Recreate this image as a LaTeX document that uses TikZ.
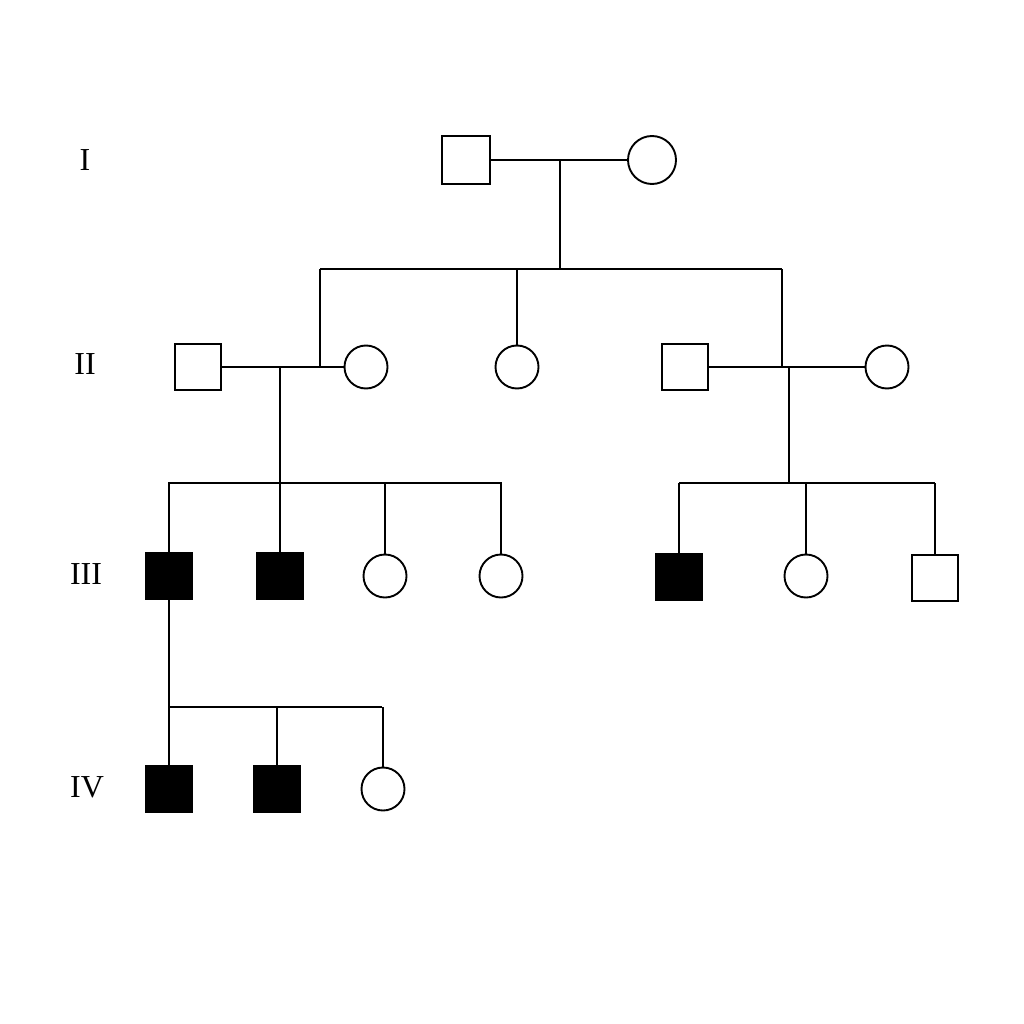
\documentclass[tikz,border=0pt]{standalone}
\usepackage{fontspec}
\setmainfont{Liberation Serif}
\begin{document}
\begin{tikzpicture}[x=1pt,y=-1pt,
  line width=1.9pt,
  male/.style={draw, rectangle, minimum size=46pt, inner sep=0pt},
  affm/.style={male, fill=black},
  female/.style={draw, circle, minimum size=43pt, inner sep=0pt},
  gen/.style={font=\fontsize{32}{32}\selectfont, inner sep=0pt}]
\fill[white] (0,0) rectangle (1024,1024);
\useasboundingbox (0,0) rectangle (1024,1024);
% generation labels
\node[gen] (gI) at (85,160) {I};
\node[gen] (gII) at (85,364) {II};
\node[gen] (gIII) at (86,574) {III};
\node[gen] (gIV) at (87,787) {IV};
% generation I
\node[male, minimum size=48pt] (m1) at (466,160) {};
\node[female, minimum size=48pt] (f1) at (652,160) {};
\coordinate (j1) at (560,160);
\coordinate (s1) at (560,269);
\coordinate (s1l) at (320,269);
\coordinate (s1r) at (782,269);
\draw (m1.east) -- (f1.west);
\draw (j1) -- (s1);
\draw (s1l) -- (s1r);
% generation II
\node[male] (m2) at (198,367) {};
\node[female] (f2) at (366,367) {};
\node[female] (f3) at (517,367) {};
\node[male] (m3) at (685,367) {};
\node[female] (f4) at (887,367) {};
\coordinate (j2) at (320,367);
\coordinate (j3) at (782,367);
\draw (m2.east) -- (f2.west);
\draw (m3.east) -- (f4.west);
\draw (s1l) -- (j2);
\draw (s1r) -- (j3);
\draw (f3.north |- s1l) -- (f3.north);
% descent II
\coordinate (d2) at (280,367);
\coordinate (s2) at (280,483);
\coordinate (s2l) at (168,483);
\coordinate (s2r) at (502,483);
\draw (d2) -- (s2);
\draw (s2l) -- (s2r);
\coordinate (d3) at (789,367);
\coordinate (s3) at (789,483);
\coordinate (s3l) at (679,483);
\coordinate (s3r) at (935,483);
\draw (d3) -- (s3);
\draw (s3l) -- (s3r);
% generation III
\node[affm] (a1) at (169,576) {};
\node[affm] (a2) at (280,576) {};
\node[female] (a3) at (385,576) {};
\node[female] (a4) at (501,576) {};
\node[affm] (b1) at (679,577) {};
\node[female] (b2) at (806,576) {};
\node[male] (b3) at (935,578) {};
\foreach \n in {a1,a2,a3,a4}{\draw (\n.north |- s2l) -- (\n.north);}
\foreach \n in {b1,b2,b3}{\draw (\n.north |- s3l) -- (\n.north);}
% generation IV
\coordinate (s4l) at (168,707);
\coordinate (s4r) at (382,707);
\draw (a1.south) -- (a1.south |- s4l);
\draw (s4l) -- (s4r);
\node[affm] (c1) at (169,789) {};
\node[affm] (c2) at (277,789) {};
\node[female] (c3) at (383,789) {};
\foreach \n in {c1,c2,c3}{\draw (\n.north |- s4l) -- (\n.north);}
\end{tikzpicture}
\end{document}
